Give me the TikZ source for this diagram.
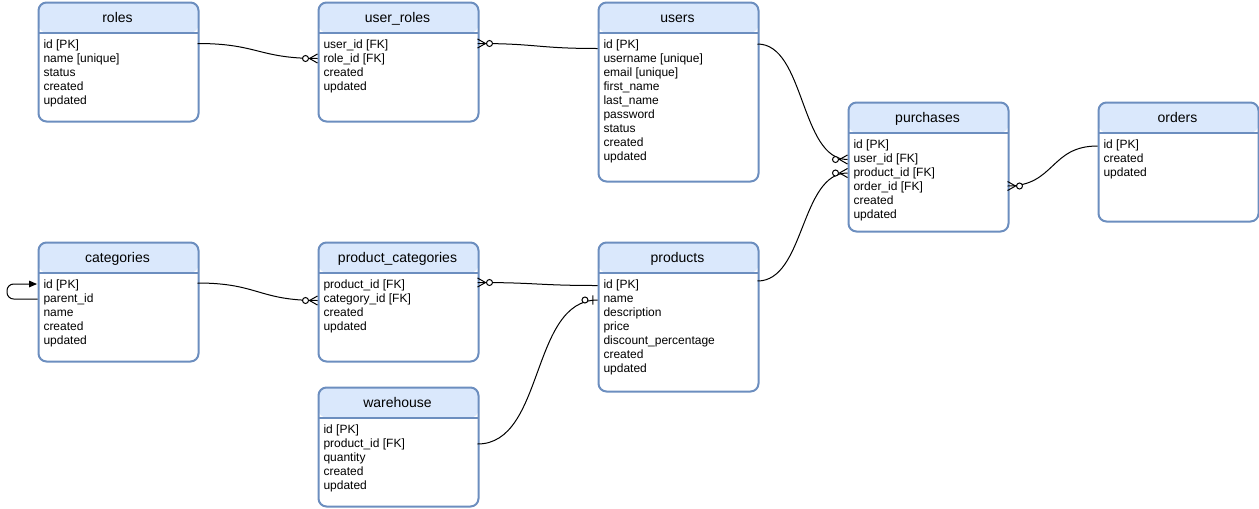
\documentclass[tikz,border=0pt]{standalone}
\usepackage{fontspec}
\setmainfont{Liberation Sans}
\usetikzlibrary{arrows.meta,decorations.markings}

\definecolor{tblBorder}{RGB}{108,142,191}
\definecolor{tblHead}{RGB}{218,232,252}

\tikzset{every picture/.style={line width=0.75pt}}
\tikzset{
  table/.style={draw=tblBorder, fill=white, line width=1.5pt, rounded corners=6pt,
    minimum width=120pt, inner sep=0pt, anchor=north west,
    path picture={
      \fill[tblHead] (path picture bounding box.north west) rectangle ([yshift=-22.5pt]path picture bounding box.north east);
      \draw[tblBorder, line width=1.5pt] ([yshift=-22.5pt]path picture bounding box.north west) -- ([yshift=-22.5pt]path picture bounding box.north east);
    }},
  title/.style={anchor=base, inner sep=0pt, font=\fontsize{10.5pt}{12pt}\selectfont},
  fields/.style={anchor=north west, inner sep=0pt, align=left, font=\fontsize{9pt}{10.5pt}\selectfont},
  % tips sit at the start of the connector
  zmany/.style={postaction={decorate}, decoration={markings, mark=at position 0 with {
      \draw[line width=0.75pt] (0pt,3.4pt) -- (6pt,0pt) -- (0pt,-3.4pt);
      \draw[line width=0.75pt, fill=white] (9pt,0pt) circle (2.25pt);}}},
  zone/.style={postaction={decorate}, decoration={markings, mark=at position 0 with {
      \draw[line width=0.75pt] (3.4pt,3.4pt) -- (3.4pt,-3.4pt);
      \draw[line width=0.75pt, fill=white] (9.4pt,0pt) circle (2.25pt);}}}
}

\begin{document}
\begin{tikzpicture}[x=0.75pt,y=0.75pt,yscale=-1,xscale=1]
        \useasboundingbox (0,0) rectangle (1259,508);

        %Shape: Table [id:roles]
        \draw (37.5,1.5) node (roles) [table, minimum height=89.25pt] {};
        % Text Node
        \draw (117.5,22) node (rolesT) [title] {roles};
        % Text Node
        \draw (43,39.5) node (rolesF) [fields] {id [PK]\\name [unique]\\status\\created\\updated};

        %Shape: Table [id:user_roles]
        \draw (317.5,1.5) node (userRoles) [table, minimum height=89.25pt] {};
        % Text Node
        \draw (397.5,22) node (userRolesT) [title] {user\_roles};
        % Text Node
        \draw (323,39.5) node (userRolesF) [fields] {user\_id [FK]\\role\_id [FK]\\created\\updated};

        %Shape: Table [id:users]
        \draw (597.5,1.5) node (users) [table, minimum height=134.25pt] {};
        % Text Node
        \draw (677.5,22) node (usersT) [title] {users};
        % Text Node
        \draw (603,39.5) node (usersF) [fields] {id [PK]\\username [unique]\\email [unique]\\first\_name\\last\_name\\password\\status\\created\\updated};

        %Shape: Table [id:purchases]
        \draw (847.5,101.5) node (purchases) [table, minimum height=96.75pt] {};
        % Text Node
        \draw (927.5,122) node (purchasesT) [title] {purchases};
        % Text Node
        \draw (853,139.5) node (purchasesF) [fields] {id [PK]\\user\_id [FK]\\product\_id [FK]\\order\_id [FK]\\created\\updated};

        %Shape: Table [id:orders]
        \draw (1097.5,101.5) node (orders) [table, minimum height=89.25pt] {};
        % Text Node
        \draw (1177.5,122) node (ordersT) [title] {orders};
        % Text Node
        \draw (1103,139.5) node (ordersF) [fields] {id [PK]\\created\\updated};

        %Shape: Table [id:categories]
        \draw (37.5,241.5) node (categories) [table, minimum height=89.25pt] {};
        % Text Node
        \draw (117.5,262) node (categoriesT) [title] {categories};
        % Text Node
        \draw (43,279.5) node (categoriesF) [fields] {id [PK]\\parent\_id\\name\\created\\updated};

        %Shape: Table [id:product_categories]
        \draw (317.5,241.5) node (prodCat) [table, minimum height=89.25pt] {};
        % Text Node
        \draw (397.5,262) node (prodCatT) [title] {product\_categories};
        % Text Node
        \draw (323,279.5) node (prodCatF) [fields] {product\_id [FK]\\category\_id [FK]\\created\\updated};

        %Shape: Table [id:products]
        \draw (597.5,241.5) node (products) [table, minimum height=111.75pt] {};
        % Text Node
        \draw (677.5,262) node (productsT) [title] {products};
        % Text Node
        \draw (603,279.5) node (productsF) [fields] {id [PK]\\name\\description\\price\\discount\_percentage\\created\\updated};

        %Shape: Table [id:warehouse]
        \draw (317.5,386.5) node (warehouse) [table, minimum height=89.25pt] {};
        % Text Node
        \draw (397.5,407) node (warehouseT) [title] {warehouse};
        % Text Node
        \draw (323,424.5) node (warehouseF) [fields] {id [PK]\\product\_id [FK]\\quantity\\created\\updated};

        % connector ends
        \coordinate (rolesId) at (197.5,43.5);
        \coordinate (userRolesRole) at (317.5,58.5);
        \coordinate (userRolesUser) at (477.5,43.5);
        \coordinate (usersIdL) at (597.5,48.5);
        \coordinate (usersIdR) at (757.5,44);
        \coordinate (purchasesUser) at (847.5,159.5);
        \coordinate (purchasesProd) at (847.5,173);
        \coordinate (purchasesR) at (1007.5,186);
        \coordinate (ordersId) at (1097.5,146);
        \coordinate (productsIdR) at (757.5,281);
        \coordinate (productsIdL) at (597.5,285.5);
        \coordinate (productsName) at (597.5,300);
        \coordinate (categoriesId) at (197.5,283);
        \coordinate (categoriesIdL) at (37,284);
        \coordinate (categoriesPar) at (37.5,299);
        \coordinate (prodCatCat) at (317.5,300.5);
        \coordinate (prodCatProd) at (477.5,282.5);
        \coordinate (warehouseProd) at (477.5,444);

        %Curve Lines [id:user_roles-roles]
        \draw [zmany] (userRolesRole) .. controls (258,58.5) and (258,43.5) .. (rolesId) ;
        %Curve Lines [id:user_roles-users]
        \draw [zmany] (userRolesUser) .. controls (537,43.5) and (537,48.5) .. (usersIdL) ;
        %Curve Lines [id:purchases-users]
        \draw [zmany] (purchasesUser) .. controls (800,159.5) and (805,44) .. (usersIdR) ;
        %Curve Lines [id:purchases-products]
        \draw [zmany] (purchasesProd) .. controls (800,173) and (805,281) .. (productsIdR) ;
        %Curve Lines [id:purchases-orders]
        \draw [zmany] (purchasesR) .. controls (1055,186) and (1050,146) .. (ordersId) ;
        %Curve Lines [id:product_categories-categories]
        \draw [zmany] (prodCatCat) .. controls (258,300.5) and (258,283) .. (categoriesId) ;
        %Curve Lines [id:product_categories-products]
        \draw [zmany] (prodCatProd) .. controls (537,282.5) and (537,285.5) .. (productsIdL) ;
        %Curve Lines [id:products-warehouse]
        \draw [zone] (productsName) .. controls (530,300) and (545,444) .. (warehouseProd) ;
        %Straight Lines [id:categories-self]
        \draw [rounded corners=5, -{Triangle[length=6pt,width=5pt]}] (categoriesPar) -- (7,299) -- (7,284) -- (categoriesIdL) ;

\end{tikzpicture}
\end{document}
